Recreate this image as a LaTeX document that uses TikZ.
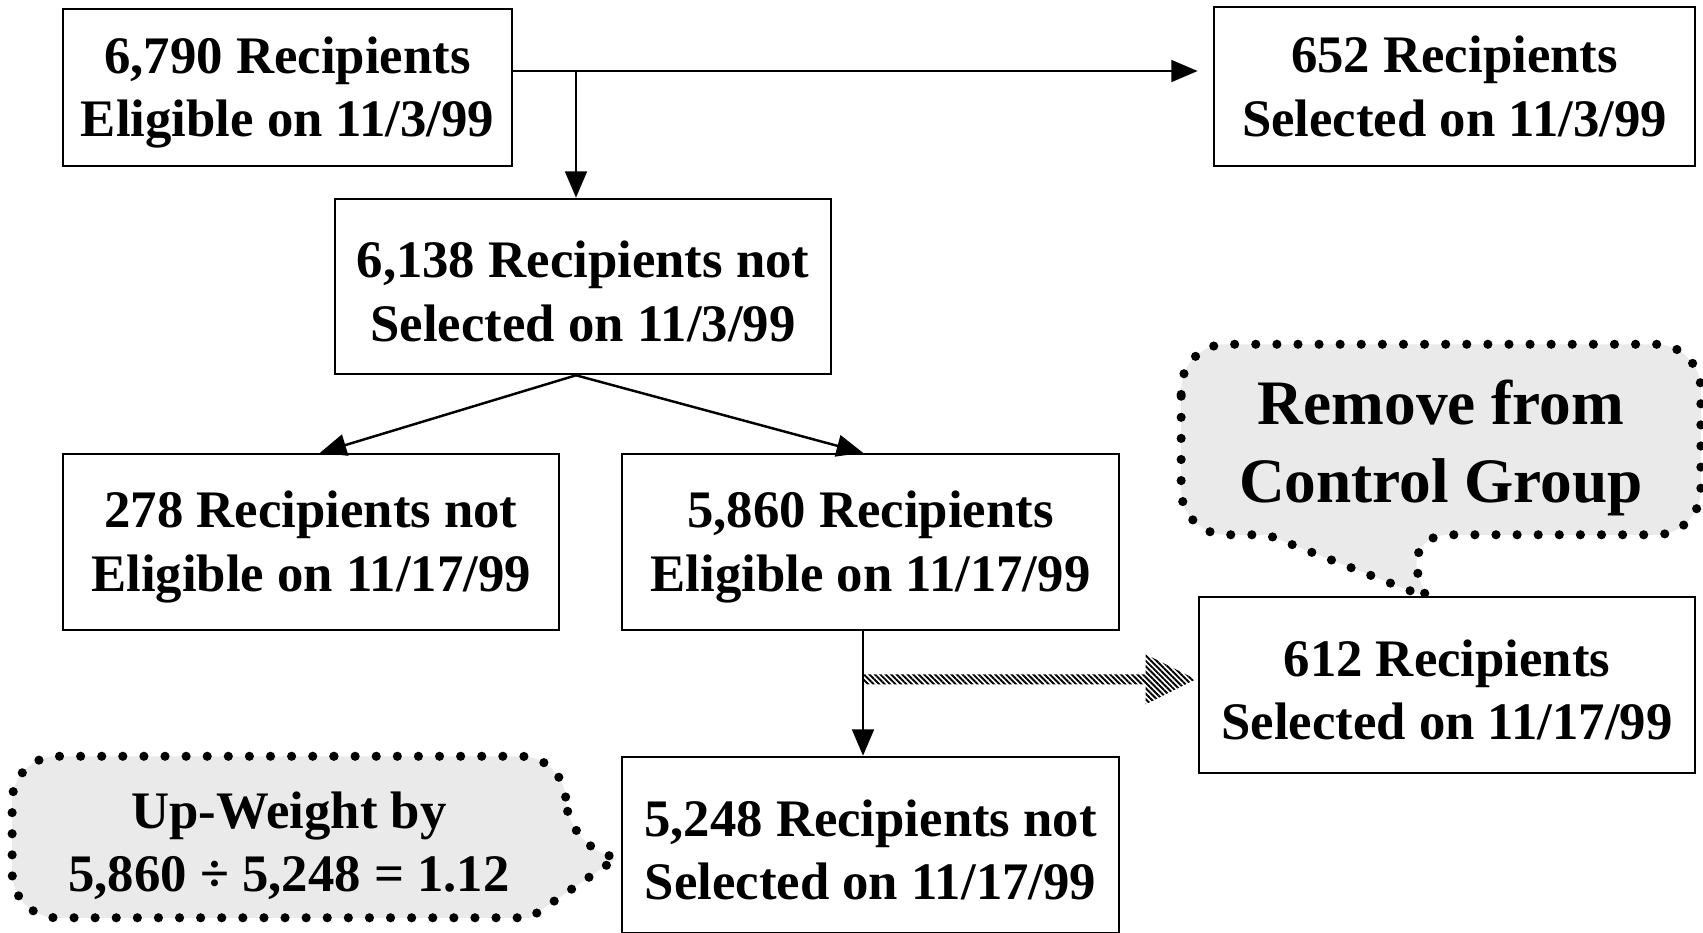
\documentclass[tikz,border=0pt]{standalone}
\usepackage{fontspec}
\setmainfont{Liberation Serif}
\usetikzlibrary{arrows.meta,calc,backgrounds,patterns.meta}
\definecolor{bubblefill}{RGB}{234,234,234}
\newcommand{\toprow}{\rule{0pt}{13.3pt}}
\tikzset{
    box/.style = {draw, rectangle, line width=0.7pt, align=center, inner sep=0pt,
        font=\fontsize{15}{18}\selectfont\bfseries},
    note/.style = {rectangle, align=center, inner sep=0pt},
    arrow/.style = {draw, line width=0.7pt, -{Triangle[length=7.5pt,width=6.2pt]}},
    bubble/.style = {draw, fill=bubblefill, line width=2.6pt, line cap=round,
        dash pattern=on 0pt off 6pt, rounded corners=4.5mm},
    hatch/.style = {pattern={Lines[angle=-45,distance=1.1pt,line width=0.55pt]}}
}

\begin{document}
\begin{tikzpicture}[x=0.01cm,y=-0.01cm]
    \useasboundingbox (0,0) rectangle (1703,932);
    \node[box,minimum width=4.49cm,minimum height=1.57cm] (e1) at (287.5,87.5) {\toprow 6,790 Recipients\\Eligible on 11/3/99};
    \node[box,minimum width=4.81cm,minimum height=1.59cm] (s1) at (1454.5,86.5) {652 Recipients\\Selected on 11/3/99};
    \node[box,minimum width=4.96cm,minimum height=1.75cm] (n1) at (583,286.5) {\toprow 6,138 Recipients not\\Selected on 11/3/99};
    \node[box,minimum width=4.96cm,minimum height=1.76cm] (ne) at (311,542) {\toprow 278 Recipients not\\Eligible on 11/17/99};
    \node[box,minimum width=4.97cm,minimum height=1.76cm] (e2) at (870.5,542) {\toprow 5,860 Recipients\\Eligible on 11/17/99};
    \node[box,minimum width=4.96cm,minimum height=1.76cm] (s2) at (1447,685) {\toprow 612 Recipients\\Selected on 11/17/99};
    \node[box,minimum width=4.97cm,minimum height=1.76cm] (n2) at (870.5,845) {\toprow 5,248 Recipients not\\Selected on 11/17/99};
    \node[note,minimum width=5.18cm,minimum height=1.89cm,font=\fontsize{18}{22.2}\selectfont\bfseries] (rm) at (1441,439.5) {\rule{0pt}{17.7pt}Remove from\\Control Group};
    \node[note,minimum width=5.52cm,minimum height=1.60cm,font=\fontsize{15}{18}\selectfont\bfseries] (uw) at (289,837) {\rule{0pt}{15.4pt}Up-Weight by\\5,860 ÷ 5,248 = 1.12};
    \coordinate (j) at (576,71);
    \coordinate (hs) at ($(e2.south)+(-7.5,48)$);
    \coordinate (rmtip) at (1426,597);
    \coordinate (uwtip) at (617,858);
    \begin{scope}[on background layer]
        \draw[bubble] (rm.west) -- (rm.north west) -- (rm.north east) -- (rm.south east)
            -- ($(rm.south)+(-37,0)$) [sharp corners] -- (rmtip) -- ($(rm.south)+(-174,0)$)
            [rounded corners=4.5mm] -- (rm.south west) -- cycle;
        \draw[bubble] (uw.north) -- (uw.north east) -- ($(uw.east)+(0,6)$) [sharp corners]
            -- (uwtip) -- ($(uw.south east)+(-36,0)$) [rounded corners=4.5mm]
            -- (uw.south west) -- (uw.north west) -- cycle;
    \end{scope}
    \draw[arrow] (e1.east |- j) -- ($(j -| s1.west)+(-15,0)$);
    \draw[arrow] (j) -- (j |- n1.north);
    \draw[arrow] (j |- n1.south) -- ($(ne.north)+(9,0)$);
    \draw[arrow] (j |- n1.south) -- (hs |- e2.north);
    \draw[arrow] (hs |- e2.south) -- (hs |- n2.north);
    \path[hatch] ($(hs)+(0,-5)$) -- ($(hs -| s2.west)+(-52,-5)$) -- ($(hs -| s2.west)+(-52,-25)$)
        -- ($(hs -| s2.west)+(-2,0)$) -- ($(hs -| s2.west)+(-52,25)$) -- ($(hs -| s2.west)+(-52,5)$)
        -- ($(hs)+(0,5)$) -- cycle;
\end{tikzpicture}
\end{document}
